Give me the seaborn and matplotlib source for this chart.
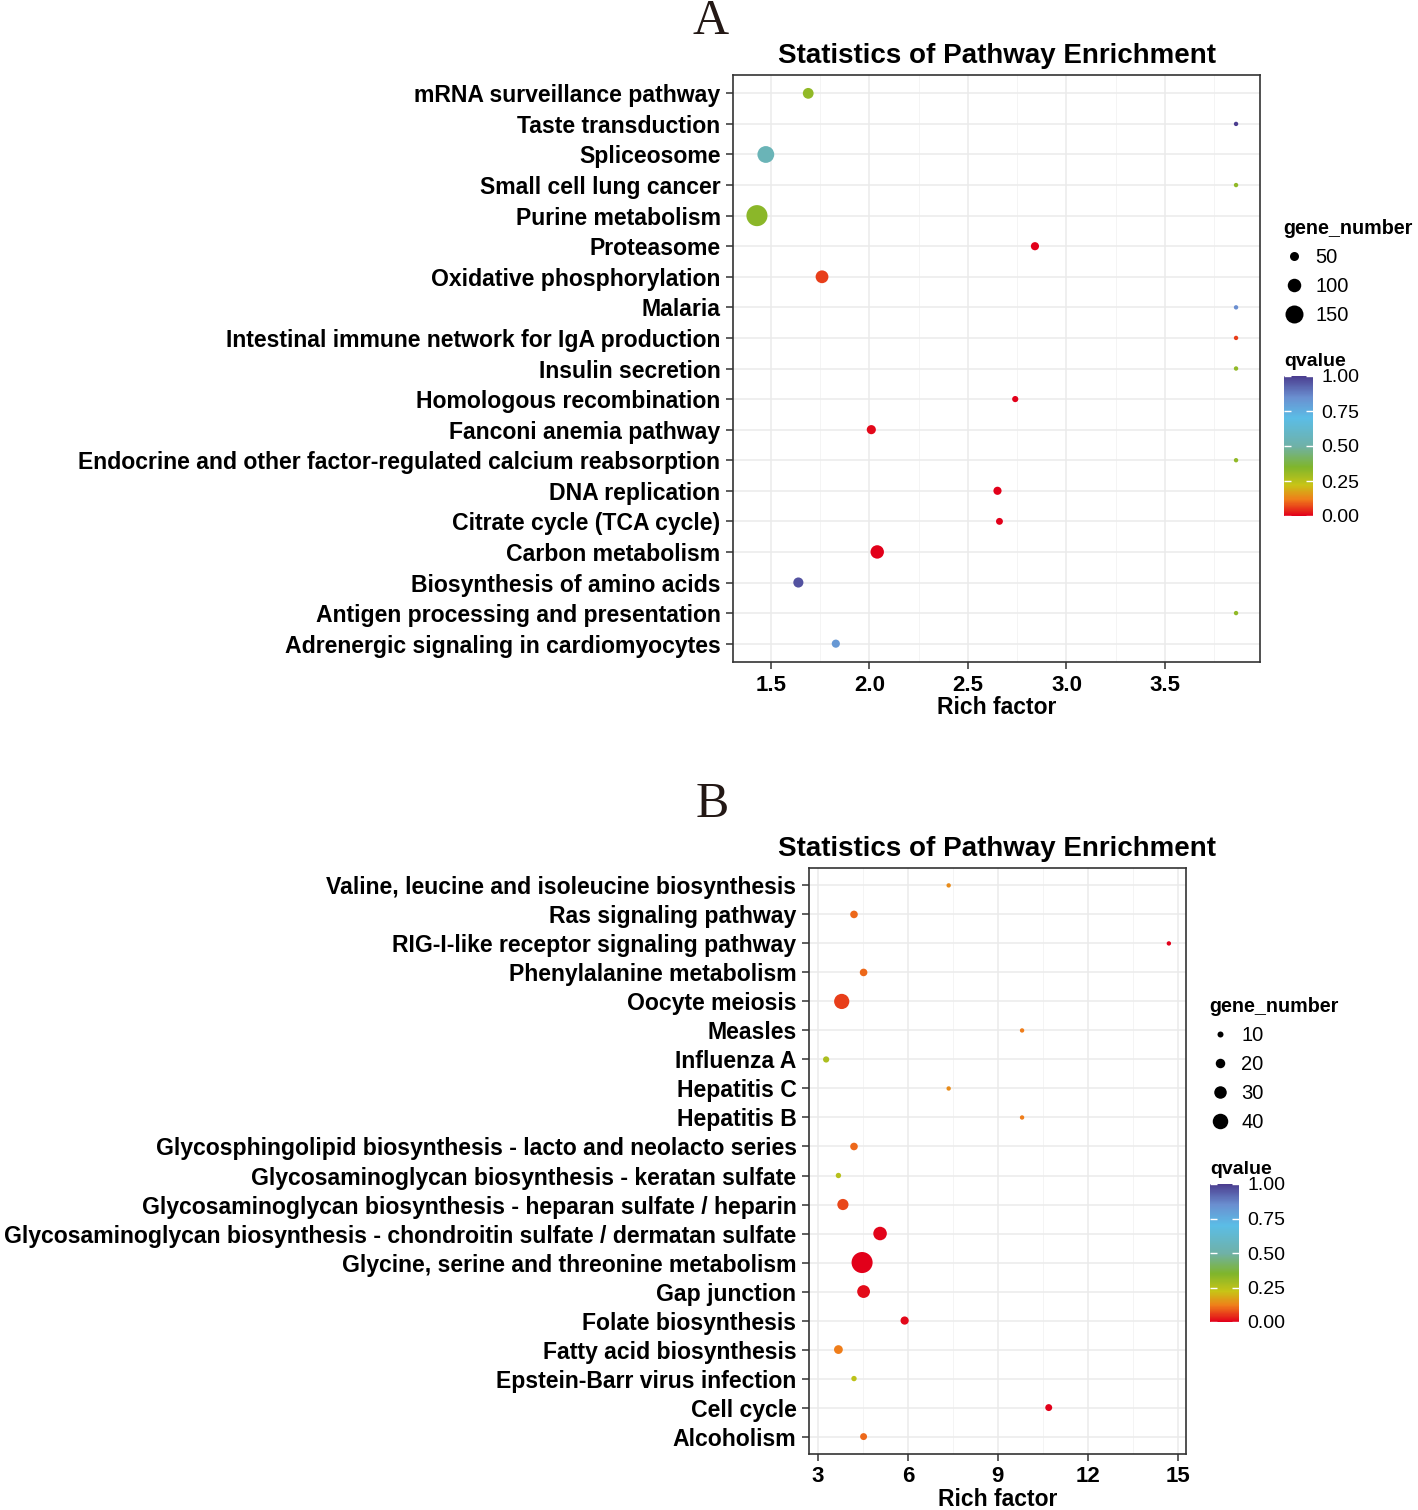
# %%
import numpy as np
import pandas as pd
import matplotlib
matplotlib.use('Agg')
import matplotlib.pyplot as plt
import matplotlib.ticker as tck
import seaborn as sns
from matplotlib.colors import LinearSegmentedColormap, Normalize
from matplotlib.cm import ScalarMappable
from matplotlib.lines import Line2D

#%% panel A (listed top to bottom as in the figure)
pathway_a = ['mRNA surveillance pathway', 'Taste transduction', 'Spliceosome',
             'Small cell lung cancer', 'Purine metabolism', 'Proteasome',
             'Oxidative phosphorylation', 'Malaria',
             'Intestinal immune network for IgA production', 'Insulin secretion',
             'Homologous recombination', 'Fanconi anemia pathway',
             'Endocrine and other factor-regulated calcium reabsorption',
             'DNA replication', 'Citrate cycle (TCA cycle)', 'Carbon metabolism',
             'Biosynthesis of amino acids', 'Antigen processing and presentation',
             'Adrenergic signaling in cardiomyocytes']
rich_a = [1.69, 3.86, 1.475, 3.86, 1.43, 2.84, 1.76, 3.86, 3.86, 3.86,
          2.74, 2.01, 3.86, 2.65, 2.66, 2.04, 1.64, 3.86, 1.83]
qvalue_a = [0.32, 1.0, 0.55, 0.32, 0.33, 0.0, 0.06, 0.85, 0.06, 0.32,
            0.0, 0.01, 0.32, 0.0, 0.0, 0.0, 0.96, 0.32, 0.82]
genes_a = [42, 1, 112, 1, 180, 21, 62, 1, 1, 1,
           9, 28, 1, 21, 13, 69, 36, 1, 21]
size_breaks_a = [50, 100, 150]

#%% panel B
pathway_b = ['Valine, leucine and isoleucine biosynthesis', 'Ras signaling pathway',
             'RIG-I-like receptor signaling pathway', 'Phenylalanine metabolism',
             'Oocyte meiosis', 'Measles', 'Influenza A', 'Hepatitis C', 'Hepatitis B',
             'Glycosphingolipid biosynthesis - lacto and neolacto series',
             'Glycosaminoglycan biosynthesis - keratan sulfate',
             'Glycosaminoglycan biosynthesis - heparan sulfate / heparin',
             'Glycosaminoglycan biosynthesis - chondroitin sulfate / dermatan sulfate',
             'Glycine, serine and threonine metabolism', 'Gap junction',
             'Folate biosynthesis', 'Fatty acid biosynthesis',
             'Epstein-Barr virus infection', 'Cell cycle', 'Alcoholism']
rich_b = [7.36, 4.2, 14.71, 4.52, 3.79, 9.81, 3.27, 7.36, 9.81, 4.2,
          3.68, 3.83, 5.07, 4.47, 4.52, 5.89, 3.68, 4.2, 10.7, 4.52]
qvalue_b = [0.14, 0.1, 0.0, 0.1, 0.06, 0.12, 0.27, 0.14, 0.12, 0.1,
            0.25, 0.07, 0.005, 0.0, 0.015, 0.01, 0.12, 0.24, 0.0, 0.1]
genes_b = [1, 5, 1, 5, 23, 1, 3, 1, 1, 5,
           2, 12, 18, 45, 16, 6, 7, 2, 4, 4]
size_breaks_b = [10, 20, 30, 40]

q_ticks = [0.0, 0.25, 0.5, 0.75, 1.0]

#%%
cmap = LinearSegmentedColormap.from_list('qv', [
    (0.0, '#E2001A'), (0.12, '#EF7F1A'), (0.22, '#C8C416'), (0.35, '#7FB52C'),
    (0.5, '#6FB1A8'), (0.7, '#5BBDE6'), (0.85, '#6A8FD0'), (1.0, '#4B3D8F')])
qnorm = Normalize(0, 1)

W, H = 1418, 1510
fig = plt.figure(figsize=(W / 100, H / 100), dpi=100, facecolor='white')
plt.rcParams['font.family'] = ['Liberation Sans', 'DejaVu Sans']


def box(x0, y0, x1, y1):
    return [x0 / W, 1 - y1 / H, (x1 - x0) / W, (y1 - y0) / H]


def panel(rect, pathways, rich, q, genes, smin, smax, xmajor, xfmt):
    ax = fig.add_axes(rect)
    df = pd.DataFrame({'pathway': pathways, 'rich': rich, 'q': q, 'genes': genes})
    df['pos'] = np.arange(len(df))[::-1]
    sns.scatterplot(data=df, x='rich', y='pos', hue='q', palette=cmap, hue_norm=qnorm,
                    size='genes', sizes=(smin, smax),
                    size_norm=(df.genes.min(), df.genes.max()),
                    linewidth=0, legend=False, ax=ax, zorder=3)
    lo, hi = df.rich.min(), df.rich.max()
    ax.set_xlim(lo - 0.05 * (hi - lo), hi + 0.05 * (hi - lo))
    ax.set_ylim(-0.6, len(df) - 0.4)
    ax.set_yticks(df.pos)
    ax.set_yticklabels(df.pathway, fontsize=16.6, fontweight='bold')
    ax.set_xticks(xmajor)
    ax.set_xticklabels([xfmt.format(v) for v in xmajor], fontsize=16, fontweight='bold')
    ax.xaxis.set_minor_locator(tck.AutoMinorLocator(2))
    ax.grid(which='major', color='#EBEBEB', lw=1.1, zorder=0)
    ax.grid(which='minor', axis='x', color='#F4F4F4', lw=0.7, zorder=0)
    ax.set_axisbelow(True)
    ax.tick_params(which='major', length=5, width=1.1, color='#333333', pad=4)
    ax.tick_params(which='minor', length=0)
    for s in ax.spines.values():
        s.set_color('#333333')
        s.set_linewidth(1.2)
    ax.set_xlabel('Rich factor', fontsize=16.5, fontweight='bold', labelpad=0)
    ax.set_ylabel('')
    ax.set_title('Statistics of Pathway Enrichment', fontsize=20, fontweight='bold', pad=9)
    return ax


def qbar(x0, y0, x1, y1):
    cax = fig.add_axes(box(x0, y0, x1, y1))
    cb = fig.colorbar(ScalarMappable(qnorm, cmap), cax=cax)
    cb.set_ticks(q_ticks)
    cb.set_ticklabels(['{:.2f}'.format(v) for v in q_ticks])
    cb.outline.set_visible(False)
    cax.tick_params(direction='in', color='white', length=5, width=1, left=True,
                    right=True, labelsize=14, pad=6)
    fig.text(x0 / W, 1 - (y0 - 15) / H, 'qvalue', fontsize=14, fontweight='bold',
             ha='left', va='center')


def size_legend(x, y, breaks, diam_px):
    handles = [Line2D([], [], marker='o', ls='', color='black', markeredgewidth=0,
                      markersize=d * 0.72) for d in diam_px]
    fig.legend(handles, [str(b) for b in breaks], title='gene_number',
               loc='upper left', bbox_to_anchor=(x / W, 1 - y / H), frameon=False,
               fontsize=14.5, title_fontproperties={'weight': 'bold', 'size': 14.2},
               alignment='left', handlelength=1.1, handletextpad=0.5,
               labelspacing=0.5, borderpad=0, borderaxespad=0)


ax_a = panel(box(733, 75, 1260, 662), pathway_a, rich_a, qvalue_a, genes_a,
             10, 230, [1.5, 2.0, 2.5, 3.0, 3.5], '{:.1f}')
ax_b = panel(box(809, 868, 1186, 1454), pathway_b, rich_b, qvalue_b, genes_b,
             10, 230, [3, 6, 9, 12, 15], '{:d}')

size_legend(1283, 219, size_breaks_a, [9, 13.5, 18])
qbar(1284, 376, 1313, 516)
size_legend(1209, 997, size_breaks_b, [6, 9.5, 12.5, 15.5])
qbar(1210, 1184, 1239, 1322)

fig.text(711 / W, 1 - 34 / H, 'A', family='Liberation Serif', fontsize=36,
         ha='center', va='baseline', color='#231815')
fig.text(712 / W, 1 - 817 / H, 'B', family='Liberation Serif', fontsize=36,
         ha='center', va='baseline', color='#231815')

plt.savefig('out.png', dpi=100, facecolor='white')
